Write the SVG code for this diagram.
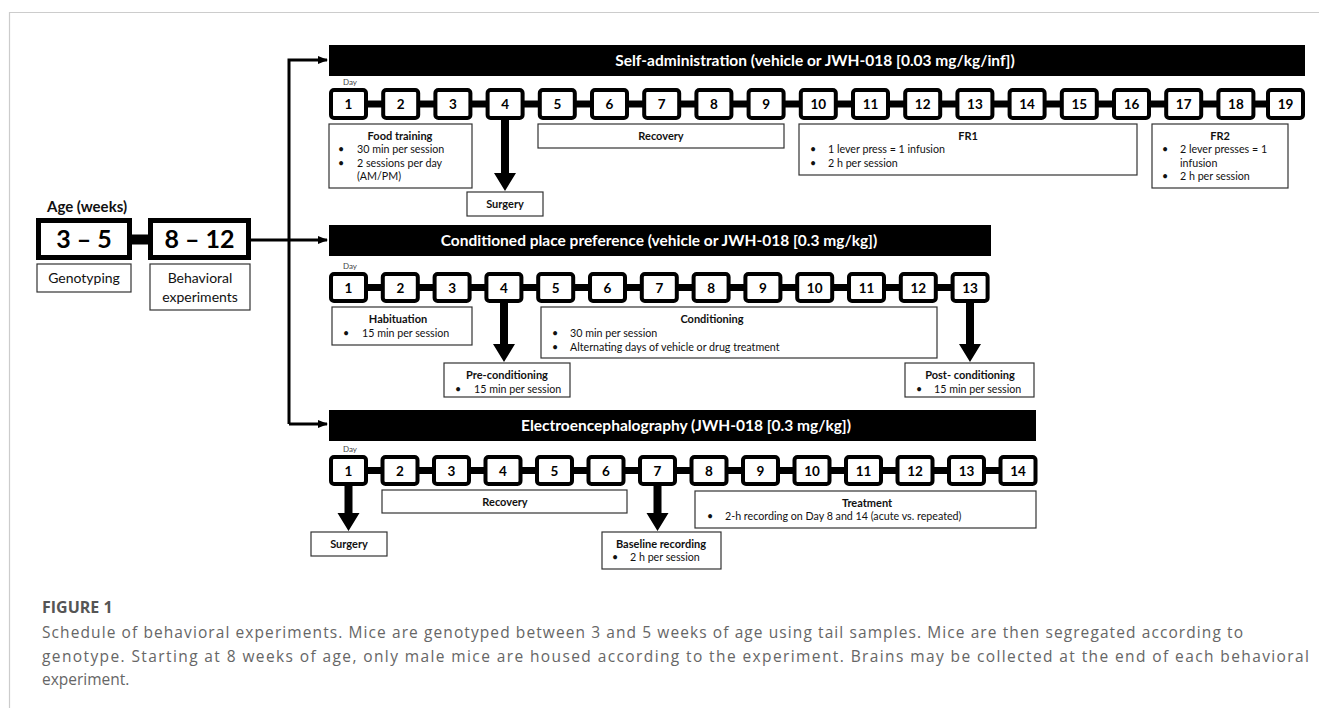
<svg xmlns="http://www.w3.org/2000/svg" width="1319" height="708" viewBox="0 0 1319 708">
<style>
.bar{fill:#000}
.bt{fill:#fff;font-family:Lato,"Liberation Sans",sans-serif;font-weight:bold;font-size:15.5px;text-anchor:middle}
.day{fill:#fff;stroke:#000;stroke-width:4}
.dn{font-family:Lato,"Liberation Sans",sans-serif;font-weight:bold;font-size:13.5px;text-anchor:middle;fill:#000}
.dl{font-family:Lato,"Liberation Sans",sans-serif;font-size:8px;fill:#444}
.info{fill:#fff;stroke:#333;stroke-width:1.2}
.ih{font-family:Lato,"Liberation Sans",sans-serif;font-weight:bold;font-size:11px;text-anchor:middle;fill:#111}
.it{font-family:Lato,"Liberation Sans",sans-serif;font-size:10.7px;fill:#111}
.age{fill:#fff;stroke:#000;stroke-width:5}
.an{font-family:Lato,"Liberation Sans",sans-serif;font-weight:bold;font-size:25px;text-anchor:middle;fill:#000}
.al{font-family:Lato,"Liberation Sans",sans-serif;font-size:14px;text-anchor:middle;fill:#111}
.chain{stroke:#000;stroke-width:7;fill:none}
.wire{stroke:#000;stroke-width:3;fill:none}
.shaft{fill:#000}
.cap{font-family:"Open Sans","Liberation Sans",sans-serif;font-size:15.5px;fill:#666}
</style>
<defs>
<marker id="ah" markerWidth="10" markerHeight="10" refX="9" refY="5" orient="auto" markerUnits="userSpaceOnUse">
<path d="M0,1 L10,5 L0,9 Z" fill="#000"/>
</marker>
</defs>
<rect width="1319" height="708" fill="#fff"/>
<path d="M9.5,708 V12.5 H1319" stroke="#ccc" stroke-width="1.2" fill="none"/>

<g id="connectors">
<rect x="130" y="234.5" width="20" height="10" fill="#000"/>
<path class="wire" d="M251,240 H327" marker-end="url(#ah)"/>
<path class="wire" d="M289,424 V60 H327" marker-end="url(#ah)"/>
<path class="wire" d="M289,424 H327" marker-end="url(#ah)"/>
<line class="chain" x1="340" y1="104" x2="1290" y2="104"/>
<line class="chain" x1="340" y1="287.5" x2="980" y2="287.5"/>
<line class="chain" x1="340" y1="470.5" x2="1020" y2="470.5"/>
<path class="shaft" d="M501,120 H509 V173 H516 L505,191 L494,173 H501 Z"/>
<path class="shaft" d="M500,303 H508 V344 H515 L504,362 L493,344 H500 Z"/>
<path class="shaft" d="M966,303 H974 V344 H981 L970,362 L959,344 H966 Z"/>
<path class="shaft" d="M344.5,486 H352.5 V513 H359.5 L348.5,531 L337.5,513 H344.5 Z"/>
<path class="shaft" d="M653.5,486 H661.5 V513 H668.5 L657.5,531 L646.5,513 H653.5 Z"/>
</g>

<g id="age">
<text x="47" y="212" font-family="Lato,'Liberation Sans',sans-serif" font-weight="bold" font-size="15px" fill="#111">Age (weeks)</text>
<g id="age-3-5"><rect class="age" x="38.5" y="220.5" width="91" height="37"/><text class="an" x="84" y="248">3 – 5</text></g>
<g id="age-8-12"><rect class="age" x="150.5" y="220.5" width="98" height="37"/><text class="an" x="199.5" y="248">8 – 12</text></g>
<g id="genotyping"><rect class="info" x="37" y="264" width="94" height="28"/><text class="al" x="84" y="283">Genotyping</text></g>
<g id="behavioral"><rect class="info" x="150" y="264" width="100" height="46"/><text class="al" x="200" y="283">Behavioral</text><text class="al" x="200" y="302">experiments</text></g>
</g>

<g id="self-admin">
<rect class="bar" x="329" y="45" width="976" height="31"/>
<text class="bt" x="815" y="66">Self-administration (vehicle or JWH-018 [0.03 mg/kg/inf])</text>
<text class="dl" x="343" y="85">Day</text>
<g id="sa-days">
<rect class="day" x="331" y="90" width="35" height="28" rx="3"/><text class="dn" x="348.5" y="109">1</text>
<rect class="day" x="383.2" y="90" width="35" height="28" rx="3"/><text class="dn" x="400.7" y="109">2</text>
<rect class="day" x="435.4" y="90" width="35" height="28" rx="3"/><text class="dn" x="452.9" y="109">3</text>
<rect class="day" x="487.6" y="90" width="35" height="28" rx="3"/><text class="dn" x="505.1" y="109">4</text>
<rect class="day" x="539.8" y="90" width="35" height="28" rx="3"/><text class="dn" x="557.3" y="109">5</text>
<rect class="day" x="592" y="90" width="35" height="28" rx="3"/><text class="dn" x="609.5" y="109">6</text>
<rect class="day" x="644.2" y="90" width="35" height="28" rx="3"/><text class="dn" x="661.7" y="109">7</text>
<rect class="day" x="696.4" y="90" width="35" height="28" rx="3"/><text class="dn" x="713.9" y="109">8</text>
<rect class="day" x="748.6" y="90" width="35" height="28" rx="3"/><text class="dn" x="766.1" y="109">9</text>
<rect class="day" x="800.8" y="90" width="35" height="28" rx="3"/><text class="dn" x="818.3" y="109">10</text>
<rect class="day" x="853" y="90" width="35" height="28" rx="3"/><text class="dn" x="870.5" y="109">11</text>
<rect class="day" x="905.2" y="90" width="35" height="28" rx="3"/><text class="dn" x="922.7" y="109">12</text>
<rect class="day" x="957.4" y="90" width="35" height="28" rx="3"/><text class="dn" x="974.9" y="109">13</text>
<rect class="day" x="1009.6" y="90" width="35" height="28" rx="3"/><text class="dn" x="1027.1" y="109">14</text>
<rect class="day" x="1061.8" y="90" width="35" height="28" rx="3"/><text class="dn" x="1079.3" y="109">15</text>
<rect class="day" x="1114" y="90" width="35" height="28" rx="3"/><text class="dn" x="1131.5" y="109">16</text>
<rect class="day" x="1166.2" y="90" width="35" height="28" rx="3"/><text class="dn" x="1183.7" y="109">17</text>
<rect class="day" x="1218.4" y="90" width="35" height="28" rx="3"/><text class="dn" x="1235.9" y="109">18</text>
<rect class="day" x="1268" y="90" width="35" height="28" rx="3"/><text class="dn" x="1285.5" y="109">19</text>
</g>
<g id="sa-food"><rect class="info" x="329" y="124" width="143" height="64"/>
<text class="ih" x="400" y="140">Food training</text>
<text class="it" x="338" y="153">•</text><text class="it" x="357" y="153">30 min per session</text>
<text class="it" x="338" y="167">•</text><text class="it" x="357" y="167">2 sessions per day</text>
<text class="it" x="357" y="180">(AM/PM)</text></g>
<g id="sa-surgery"><rect class="info" x="467" y="192" width="76" height="24"/><text class="ih" x="505" y="208">Surgery</text></g>
<g id="sa-recovery"><rect class="info" x="538" y="124" width="246" height="24"/><text class="ih" x="661" y="140">Recovery</text></g>
<g id="sa-fr1"><rect class="info" x="799" y="124" width="338" height="51"/>
<text class="ih" x="968" y="140">FR1</text>
<text class="it" x="810" y="153">•</text><text class="it" x="828" y="153">1 lever press = 1 infusion</text>
<text class="it" x="810" y="167">•</text><text class="it" x="828" y="167">2 h per session</text></g>
<g id="sa-fr2"><rect class="info" x="1152" y="124" width="136" height="64"/>
<text class="ih" x="1220" y="140">FR2</text>
<text class="it" x="1162" y="153">•</text><text class="it" x="1180" y="153">2 lever presses = 1</text>
<text class="it" x="1180" y="167">infusion</text>
<text class="it" x="1162" y="180">•</text><text class="it" x="1180" y="180">2 h per session</text></g>
</g>

<g id="cpp">
<rect class="bar" x="329" y="225" width="662" height="31"/>
<text class="bt" x="659" y="246">Conditioned place preference (vehicle or JWH-018 [0.3 mg/kg])</text>
<text class="dl" x="343" y="269">Day</text>
<g id="cpp-days">
<rect class="day" x="331" y="274" width="35" height="27" rx="3"/><text class="dn" x="348.5" y="292.5">1</text>
<rect class="day" x="382.8" y="274" width="35" height="27" rx="3"/><text class="dn" x="400.3" y="292.5">2</text>
<rect class="day" x="434.6" y="274" width="35" height="27" rx="3"/><text class="dn" x="452.1" y="292.5">3</text>
<rect class="day" x="486.4" y="274" width="35" height="27" rx="3"/><text class="dn" x="503.9" y="292.5">4</text>
<rect class="day" x="538.2" y="274" width="35" height="27" rx="3"/><text class="dn" x="555.7" y="292.5">5</text>
<rect class="day" x="590" y="274" width="35" height="27" rx="3"/><text class="dn" x="607.5" y="292.5">6</text>
<rect class="day" x="641.8" y="274" width="35" height="27" rx="3"/><text class="dn" x="659.3" y="292.5">7</text>
<rect class="day" x="693.6" y="274" width="35" height="27" rx="3"/><text class="dn" x="711.1" y="292.5">8</text>
<rect class="day" x="745.4" y="274" width="35" height="27" rx="3"/><text class="dn" x="762.9" y="292.5">9</text>
<rect class="day" x="797.2" y="274" width="35" height="27" rx="3"/><text class="dn" x="814.7" y="292.5">10</text>
<rect class="day" x="849" y="274" width="35" height="27" rx="3"/><text class="dn" x="866.5" y="292.5">11</text>
<rect class="day" x="900.8" y="274" width="35" height="27" rx="3"/><text class="dn" x="918.3" y="292.5">12</text>
<rect class="day" x="952.6" y="274" width="35" height="27" rx="3"/><text class="dn" x="970.1" y="292.5">13</text>
</g>
<g id="cpp-habituation"><rect class="info" x="332" y="307" width="140" height="38"/>
<text class="ih" x="398" y="323">Habituation</text>
<text class="it" x="343" y="337">•</text><text class="it" x="362" y="337">15 min per session</text></g>
<g id="cpp-conditioning"><rect class="info" x="541" y="307" width="396" height="51"/>
<text class="ih" x="712" y="323">Conditioning</text>
<text class="it" x="552" y="337">•</text><text class="it" x="570" y="337">30 min per session</text>
<text class="it" x="552" y="351">•</text><text class="it" x="570" y="351">Alternating days of vehicle or drug treatment</text></g>
<g id="cpp-pre"><rect class="info" x="444" y="363" width="126" height="34"/>
<text class="ih" x="507" y="379">Pre-conditioning</text>
<text class="it" x="455" y="393">•</text><text class="it" x="474" y="393">15 min per session</text></g>
<g id="cpp-post"><rect class="info" x="905" y="363" width="129" height="34"/>
<text class="ih" x="970" y="379">Post- conditioning</text>
<text class="it" x="916" y="393">•</text><text class="it" x="934" y="393">15 min per session</text></g>
</g>

<g id="eeg">
<rect class="bar" x="329" y="410" width="707" height="31"/>
<text class="bt" x="686" y="431">Electroencephalography (JWH-018 [0.3 mg/kg])</text>
<text class="dl" x="343" y="452">Day</text>
<g id="eeg-days">
<rect class="day" x="331" y="457" width="35" height="27" rx="3"/><text class="dn" x="348.5" y="475.5">1</text>
<rect class="day" x="382.5" y="457" width="35" height="27" rx="3"/><text class="dn" x="400" y="475.5">2</text>
<rect class="day" x="434" y="457" width="35" height="27" rx="3"/><text class="dn" x="451.5" y="475.5">3</text>
<rect class="day" x="485.5" y="457" width="35" height="27" rx="3"/><text class="dn" x="503" y="475.5">4</text>
<rect class="day" x="537" y="457" width="35" height="27" rx="3"/><text class="dn" x="554.5" y="475.5">5</text>
<rect class="day" x="588.5" y="457" width="35" height="27" rx="3"/><text class="dn" x="606" y="475.5">6</text>
<rect class="day" x="640" y="457" width="35" height="27" rx="3"/><text class="dn" x="657.5" y="475.5">7</text>
<rect class="day" x="691.5" y="457" width="35" height="27" rx="3"/><text class="dn" x="709" y="475.5">8</text>
<rect class="day" x="743" y="457" width="35" height="27" rx="3"/><text class="dn" x="760.5" y="475.5">9</text>
<rect class="day" x="794.5" y="457" width="35" height="27" rx="3"/><text class="dn" x="812" y="475.5">10</text>
<rect class="day" x="846" y="457" width="35" height="27" rx="3"/><text class="dn" x="863.5" y="475.5">11</text>
<rect class="day" x="897.5" y="457" width="35" height="27" rx="3"/><text class="dn" x="915" y="475.5">12</text>
<rect class="day" x="949" y="457" width="35" height="27" rx="3"/><text class="dn" x="966.5" y="475.5">13</text>
<rect class="day" x="1000.5" y="457" width="35" height="27" rx="3"/><text class="dn" x="1018" y="475.5">14</text>
</g>
<g id="eeg-recovery"><rect class="info" x="382" y="490" width="245" height="23"/><text class="ih" x="505" y="506">Recovery</text></g>
<g id="eeg-surgery"><rect class="info" x="311" y="532" width="76" height="24"/><text class="ih" x="349" y="548">Surgery</text></g>
<g id="eeg-baseline"><rect class="info" x="602" y="532" width="119" height="37"/>
<text class="ih" x="661" y="548">Baseline recording</text>
<text class="it" x="612" y="561">•</text><text class="it" x="630" y="561">2 h per session</text></g>
<g id="eeg-treatment"><rect class="info" x="695" y="491" width="341" height="37"/>
<text class="ih" x="867" y="507">Treatment</text>
<text class="it" x="707" y="520">•</text><text class="it" x="725" y="520">2-h recording on Day 8 and 14 (acute vs. repeated)</text></g>
</g>

<g id="caption">
<text x="42" y="613" font-family="'Open Sans','Liberation Sans',sans-serif" font-weight="bold" font-size="16px" fill="#555">FIGURE 1</text>
<text class="cap" x="42" y="638" textLength="1201" lengthAdjust="spacing">Schedule of behavioral experiments. Mice are genotyped between 3 and 5 weeks of age using tail samples. Mice are then segregated according to</text>
<text class="cap" x="42" y="662" textLength="1267" lengthAdjust="spacing">genotype. Starting at 8 weeks of age, only male mice are housed according to the experiment. Brains may be collected at the end of each behavioral</text>
<text class="cap" x="42" y="685">experiment.</text>
</g>
</svg>
